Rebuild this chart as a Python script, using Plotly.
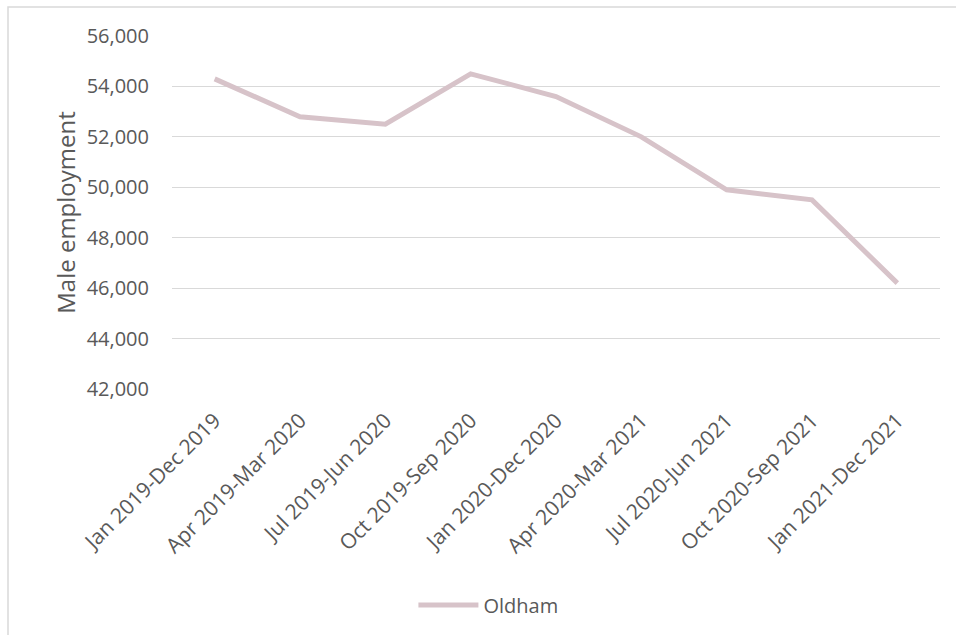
import plotly.graph_objects as go

# Rolling 12-month periods and male employment counts for Oldham
periods = [
    "Jan 2019-Dec 2019",
    "Apr 2019-Mar 2020",
    "Jul 2019-Jun 2020",
    "Oct 2019-Sep 2020",
    "Jan 2020-Dec 2020",
    "Apr 2020-Mar 2021",
    "Jul 2020-Jun 2021",
    "Oct 2020-Sep 2021",
    "Jan 2021-Dec 2021",
]
oldham_male_employment = [54300, 52800, 52500, 54500, 53600, 52000, 49900, 49500, 46200]
y_ticks = [42000, 44000, 46000, 48000, 50000, 52000, 54000, 56000]

W, H = 956, 635
L, R, T, B = 172, 16, 36, 245
TEXT = "#595959"
GRID = "#D9D9D9"
FONT = "Open Sans, Liberation Sans, sans-serif"

fig = go.Figure()
fig.add_trace(go.Scatter(
    x=periods,
    y=oldham_male_employment,
    mode="lines",
    name="Oldham",
    line=dict(color="#D7C3C9", width=5),
))

pw = W - L - R
ph = H - T - B

fig.update_layout(
    width=W,
    height=H,
    margin=dict(l=L, r=R, t=T, b=B),
    paper_bgcolor="white",
    plot_bgcolor="white",
    font=dict(family=FONT, color=TEXT, size=18),
    showlegend=True,
    legend=dict(
        orientation="h",
        x=0.412,
        xanchor="center",
        y=-(605 - (T + ph)) / ph,
        yanchor="middle",
        itemwidth=60,
        font=dict(size=20, color=TEXT),
        bgcolor="rgba(0,0,0,0)",
    ),
    xaxis=dict(
        type="category",
        range=[-0.5, len(periods) - 0.5],
        tickangle=-45,
        showgrid=False,
        showline=False,
        ticks="",
        ticklabelstandoff=14,
        tickfont=dict(size=21, color=TEXT),
        zeroline=False,
    ),
    yaxis=dict(
        range=[42000, 56000],
        tickvals=y_ticks,
        tickformat=",",
        showgrid=True,
        gridcolor=GRID,
        gridwidth=1,
        zeroline=False,
        showline=False,
        ticks="",
        ticklen=0,
        ticklabelstandoff=22,
        tickfont=dict(size=20, color=TEXT),
        title=dict(text="Male employment", font=dict(size=24, color=TEXT), standoff=4),
    ),
    shapes=[
        dict(
            type="rect",
            xref="paper",
            yref="paper",
            x0=(8 - L) / pw,
            x1=(W + 5 - L) / pw,
            y0=(T + ph - (H + 5)) / ph,
            y1=(T + ph - 7) / ph,
            line=dict(color=GRID, width=1.5),
            fillcolor="rgba(0,0,0,0)",
            layer="below",
        )
    ],
)

fig.write_html("out.html")
